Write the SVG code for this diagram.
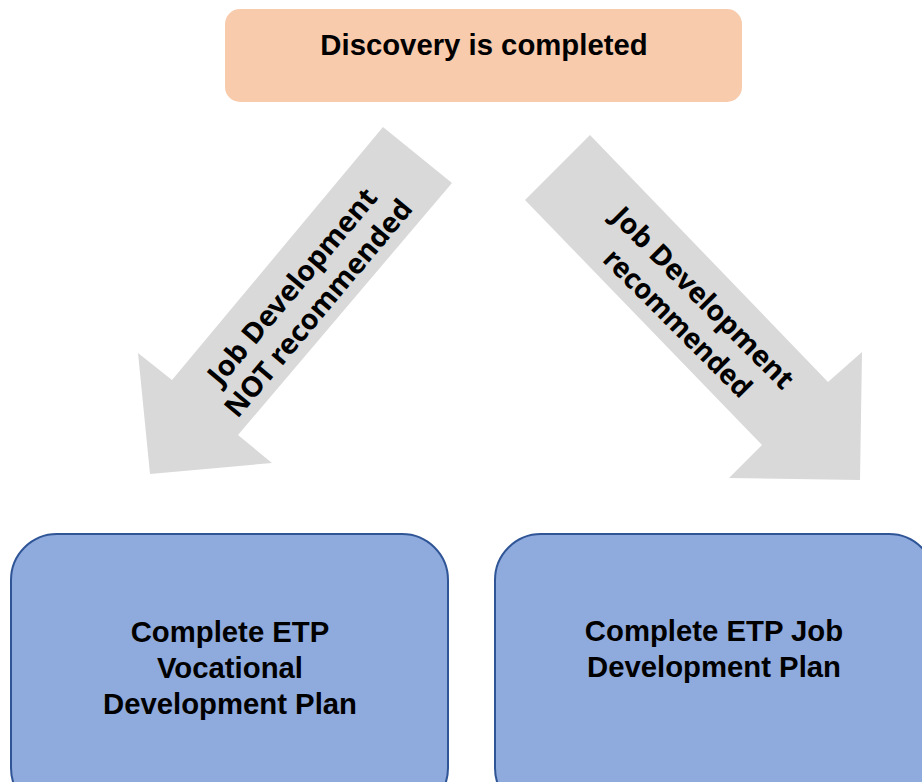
<svg xmlns="http://www.w3.org/2000/svg" width="922" height="782" viewBox="0 0 922 782">
<style>
.box-top{fill:#F8CBAD;}
.box-blue{fill:#8FAADC;stroke:#2F5597;stroke-width:2;}
.arrow{fill:#D9D9D9;}
.lbl{font-family:"Liberation Sans",Arial,sans-serif;font-weight:bold;fill:#000;text-anchor:middle;font-size:29.3px;}
.alb{font-family:"Noto Sans","DejaVu Sans",sans-serif;font-weight:bold;fill:#000;text-anchor:middle;font-size:28px;}
</style>
<rect width="922" height="782" fill="#fff"/>
<g id="connectors">
  <g id="arrow-left">
    <polygon class="arrow" points="383,127 452,183 238,435 272,463 150,474 138,353 172,380"/>
    <g transform="translate(305,297) rotate(-50)">
      <text class="alb" x="0" y="-7" textLength="246" lengthAdjust="spacingAndGlyphs">Job Development</text>
      <text class="alb" x="0" y="27" textLength="274" lengthAdjust="spacingAndGlyphs">NOT recommended</text>
    </g>
  </g>
  <g id="arrow-right">
    <polygon class="arrow" points="590,135 525,200 762,445 729,478 860,480 862,352 828,382"/>
    <g transform="translate(690,311) rotate(45)">
      <text class="alb" x="0" y="-9" textLength="244" lengthAdjust="spacingAndGlyphs">Job Development</text>
      <text class="alb" x="0" y="27" textLength="196" lengthAdjust="spacingAndGlyphs">recommended</text>
    </g>
  </g>
</g>
<g id="node-discovery">
  <rect class="box-top" x="225" y="9" width="517" height="93" rx="15"/>
  <text class="lbl" x="484" y="55">Discovery is completed</text>
</g>
<g id="node-vocational">
  <rect class="box-blue" x="11" y="534" width="437" height="280" rx="46"/>
  <text class="lbl" x="230" y="642">Complete ETP</text>
  <text class="lbl" x="230" y="678">Vocational</text>
  <text class="lbl" x="230" y="714">Development Plan</text>
</g>
<g id="node-job">
  <rect class="box-blue" x="495" y="534" width="440" height="280" rx="46"/>
  <text class="lbl" x="714" y="641">Complete ETP Job</text>
  <text class="lbl" x="714" y="677">Development Plan</text>
</g>
</svg>
